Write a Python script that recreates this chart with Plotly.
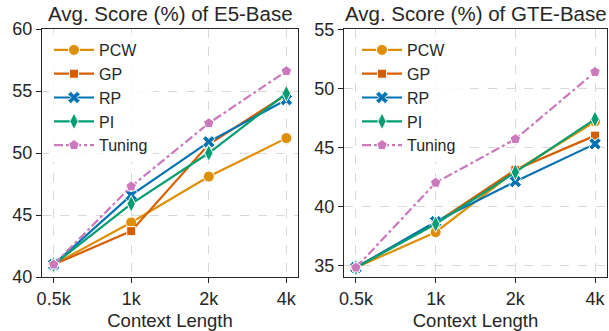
import plotly.graph_objects as go

lengths = ["0.5k", "1k", "2k", "4k"]
methods = ["PCW", "GP", "RP", "PI", "Tuning"]

e5_pcw = [41.0, 44.4, 48.1, 51.2]
e5_gp = [41.0, 43.7, 50.7, 54.7]
e5_rp = [41.0, 46.6, 50.9, 54.3]
e5_pi = [41.0, 45.9, 50.0, 54.8]
e5_tuning = [41.0, 47.3, 52.4, 56.6]

gte_pcw = [34.8, 37.8, 43.0, 47.2]
gte_gp = [34.8, 38.6, 43.1, 46.0]
gte_rp = [34.8, 38.7, 42.1, 45.3]
gte_pi = [34.8, 38.5, 42.9, 47.4]
gte_tuning = [34.8, 42.0, 45.7, 51.4]

colors = {"PCW": "#de8f05", "GP": "#d55e00", "RP": "#0173b2", "PI": "#029e73", "Tuning": "#cc78bc"}
dashes = {"PCW": "solid", "GP": "solid", "RP": "solid", "PI": "solid", "Tuning": "dashdot"}
markers = {
    "PCW": dict(symbol="circle", size=11),
    "GP": dict(symbol="square", size=9),
    "RP": dict(symbol="x", size=11),
    "PI": dict(symbol="diamond-tall", size=12),
    "Tuning": dict(symbol="pentagon", size=11),
}

e5 = {"PCW": e5_pcw, "GP": e5_gp, "RP": e5_rp, "PI": e5_pi, "Tuning": e5_tuning}
gte = {"PCW": gte_pcw, "GP": gte_gp, "RP": gte_rp, "PI": gte_pi, "Tuning": gte_tuning}

FONT = "Liberation Sans, Arial, sans-serif"
TXT = "#262626"
fig = go.Figure()
xs = list(range(len(lengths)))

for data, xa, ya, lg in [(e5, "x", "y", "legend"), (gte, "x2", "y2", "legend2")]:
    for m in methods:
        mk = dict(markers[m])
        mk.update(color=colors[m], line=dict(color="white", width=1))
        fig.add_trace(go.Scatter(
            x=xs, y=data[m], mode="lines+markers", name=m,
            line=dict(color=colors[m], width=2.2, dash=dashes[m]),
            marker=mk, xaxis=xa, yaxis=ya, legend=lg,
        ))

axis_common = dict(
    showline=True, linecolor=TXT, linewidth=1.25, mirror=True,
    ticks="outside", ticklen=5, tickwidth=1.25, tickcolor=TXT,
    showgrid=True, gridcolor="#d9d9d9", griddash="dash", gridwidth=1,
    zeroline=False, tickfont=dict(family=FONT, size=18, color=TXT), automargin=False,
)
xtitle = dict(text="Context Length", font=dict(family=FONT, size=18.5, color=TXT), standoff=6)

ydom = [1 - 277 / 331, 1 - 29 / 331]
legend_common = dict(xanchor="left", yanchor="top", bgcolor="rgba(255,255,255,0.8)",
                     font=dict(family=FONT, size=16, color=TXT), tracegroupgap=0, itemwidth=40)
fig.update_layout(
    width=609, height=331, margin=dict(l=0, r=0, t=0, b=0, autoexpand=False),
    paper_bgcolor="white", plot_bgcolor="white",
    font=dict(family=FONT, color=TXT),
    xaxis=dict(domain=[42 / 609, 298 / 609], range=[-0.15, 3.15], tickvals=xs, ticktext=lengths,
               title=xtitle, anchor="y", **axis_common),
    yaxis=dict(domain=ydom, range=[40, 60], tickvals=[40, 45, 50, 55, 60], anchor="x", **axis_common),
    xaxis2=dict(domain=[344 / 609, 607 / 609], range=[-0.15, 3.15], tickvals=xs, ticktext=lengths,
                title=xtitle, anchor="y2", **axis_common),
    yaxis2=dict(domain=ydom, range=[34, 55.05], tickvals=[35, 40, 45, 50, 55], anchor="x2", **axis_common),
    legend=dict(x=49 / 609, y=1 - 33 / 331, **legend_common),
    legend2=dict(x=357 / 609, y=1 - 33 / 331, **legend_common),
    annotations=[
        dict(text="Avg. Score (%) of E5-Base", x=170 / 609, y=1 - 13 / 331, xref="paper", yref="paper",
             showarrow=False, font=dict(family=FONT, size=20.5, color=TXT), xanchor="center", yanchor="middle"),
        dict(text="Avg. Score (%) of GTE-Base", x=476 / 609, y=1 - 13 / 331, xref="paper", yref="paper",
             showarrow=False, font=dict(family=FONT, size=20.5, color=TXT), xanchor="center", yanchor="middle"),
    ],
)

fig.write_html("out.html")
